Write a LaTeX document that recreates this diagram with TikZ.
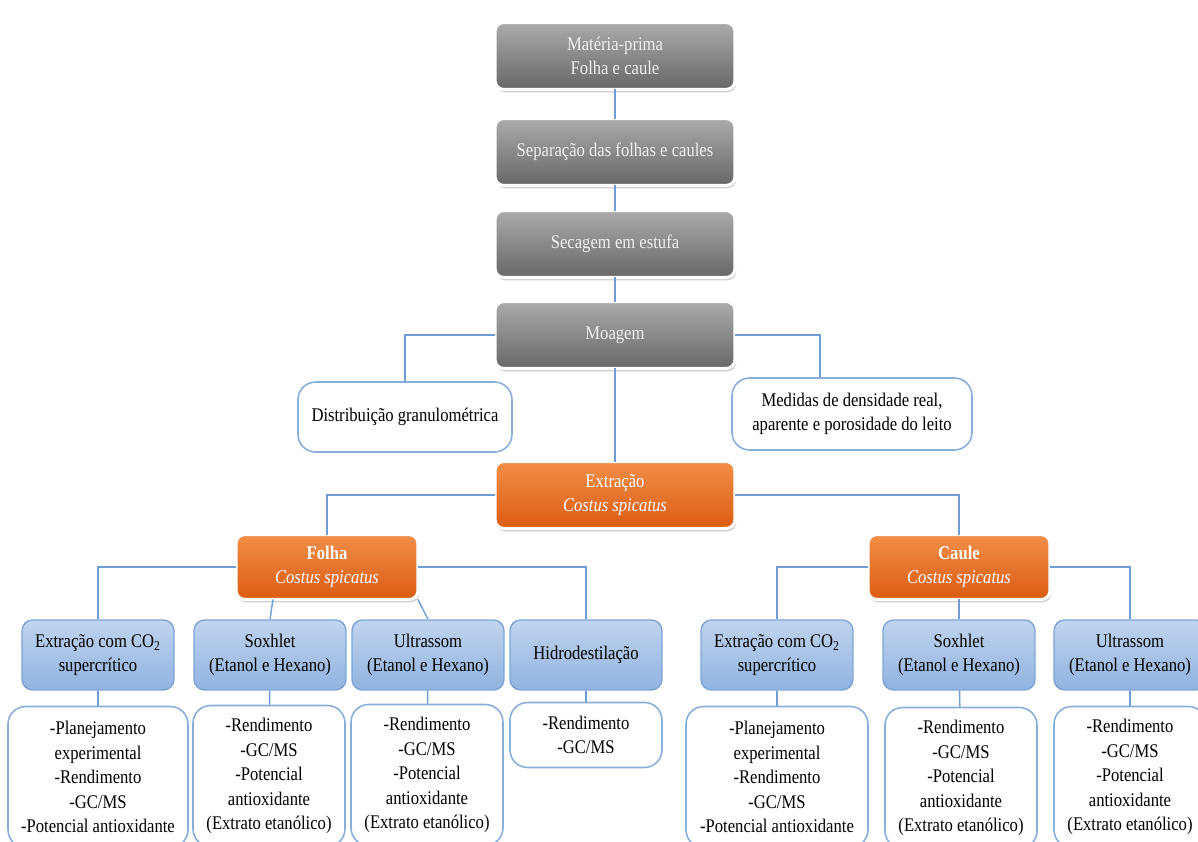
\documentclass[tikz,border=0pt]{standalone}
\usepackage{fontspec}
\setmainfont[FakeStretch=0.86]{Liberation Serif}
\usepackage{xcolor}
\definecolor{ColGrT}{RGB}{170,170,170}
\definecolor{ColGrB}{RGB}{104,104,104}
\definecolor{ColOrT}{RGB}{242,142,72}
\definecolor{ColOrB}{RGB}{219,92,18}
\definecolor{ColBlT}{RGB}{192,212,238}
\definecolor{ColBlB}{RGB}{144,179,224}
\definecolor{ColBlD}{RGB}{124,165,214}
\definecolor{ColEdge}{RGB}{108,157,212}
\usepackage{tikz}
\usetikzlibrary{shadows}
\usetikzlibrary{calc}
\tikzstyle{Box}=[rectangle,align=center,inner sep=1pt,
font=\fontsize{11}{14}\selectfont]
\tikzstyle{GrayBox}=[Box,rounded corners=5pt,draw=white,line width=1.8pt,
outer sep=0pt,top color=ColGrT,bottom color=ColGrB,text=white!94!black,
minimum width=4.8cm,minimum height=1.34cm,
drop shadow={shadow xshift=.7pt,shadow yshift=-1.6pt,opacity=.4}]
\tikzstyle{OrangeBox}=[GrayBox,top color=ColOrT,bottom color=ColOrB,
text=white]
\tikzstyle{TechBox}=[Box,rounded corners=6pt,draw=ColBlD,line width=.8pt,
top color=ColBlT,bottom color=ColBlB,text=black,
minimum width=3.04cm,minimum height=1.4cm]
\tikzstyle{ResBox}=[Box,rounded corners=10pt,draw=ColBlD!90,line width=.9pt,
fill=white,text=black,minimum width=3.04cm,minimum height=2.82cm]
\tikzstyle{InfoBox}=[ResBox,minimum height=1.4cm]
\tikzstyle{Edge}=[draw=ColEdge,line width=.8pt]

\begin{document}
\begin{tikzpicture}[x=.02cm,y=-.02cm]
    \useasboundingbox(0,0)rectangle(1198,842);
    \clip(0,0)rectangle(1198,842);
        % tronco do processo
        \node[GrayBox](mat)at(615,56){Matéria-prima\\Folha e caule};
        \node[GrayBox](sep)at(615,152){Separação das folhas e caules};
        \node[GrayBox](sec)at(615,244){Secagem em estufa};
        \node[GrayBox](moa)at(615,335){Moagem};
        \node[InfoBox,minimum width=4.28cm](dis)at(405,417)
            {Distribuição granulométrica};
        \node[InfoBox,minimum width=4.8cm,minimum height=1.44cm](med)
            at(852,414){Medidas de densidade real,\\
            aparente e porosidade do leito};
        \node[OrangeBox](ext)at(615,495)
            {Extração\\\textit{Costus spicatus}};
        \node[OrangeBox,minimum width=3.64cm,minimum height=1.3cm](fol)
            at(327,567){\textbf{Folha}\\\textit{Costus spicatus}};
        \node[OrangeBox,minimum width=3.64cm,minimum height=1.3cm](cau)
            at(959,567){\textbf{Caule}\\\textit{Costus spicatus}};
        % folha
        \node[TechBox](coL)at(98,655)
            {Extração com CO\textsubscript{2}\\supercrítico};
        \node[TechBox](soL)at(270,655){Soxhlet\\(Etanol e Hexano)};
        \node[TechBox](ulL)at(428,655){Ultrassom\\(Etanol e Hexano)};
        \node[TechBox](hiL)at(586,655){Hidrodestilação};
        % caule
        \node[TechBox](coR)at(777,655)
            {Extração com CO\textsubscript{2}\\supercrítico};
        \node[TechBox](soR)at(959,655){Soxhlet\\(Etanol e Hexano)};
        \node[TechBox](ulR)at(1130,655){Ultrassom\\(Etanol e Hexano)};
        % analises
        \node[ResBox,minimum width=3.6cm](rcL)at(98,777)
            {-Planejamento\\experimental\\-Rendimento\\-GC/MS\\
            -Potencial antioxidante};
        \node[ResBox](rsL)at(269,776){-Rendimento\\-GC/MS\\-Potencial\\
            antioxidante\\(Extrato etanólico)};
        \node[ResBox](ruL)at(427,775){-Rendimento\\-GC/MS\\-Potencial\\
            antioxidante\\(Extrato etanólico)};
        \node[ResBox,minimum height=1.3cm](rhL)at(586,735)
            {-Rendimento\\-GC/MS};
        \node[ResBox,minimum width=3.64cm](rcR)at(777,777)
            {-Planejamento\\experimental\\-Rendimento\\-GC/MS\\
            -Potencial antioxidante};
        \node[ResBox](rsR)at(961,778){-Rendimento\\-GC/MS\\-Potencial\\
            antioxidante\\(Extrato etanólico)};
        \node[ResBox](ruR)at(1130,777){-Rendimento\\-GC/MS\\-Potencial\\
            antioxidante\\(Extrato etanólico)};
        \draw[Edge](mat)--(sep);
        \draw[Edge](sep)--(sec);
        \draw[Edge](sec)--(moa);
        \draw[Edge](moa.west)-|(dis.north);
        \draw[Edge](moa.east)-|($(med.north)+(-32,0)$);
        \draw[Edge](moa)--(ext);
        \draw[Edge](ext.west)-|(fol.north);
        \draw[Edge](ext.east)-|(cau.north);
        \draw[Edge](fol.west)-|(coL.north);
        \draw[Edge]($(fol.south)+(-54,0)$)--(soL.north);
        \draw[Edge](fol.south east)--(ulL.north);
        \draw[Edge](fol.east)-|(hiL.north);
        \draw[Edge](cau.west)-|(coR.north);
        \draw[Edge](cau)--(soR);
        \draw[Edge](cau.east)-|(ulR.north);
        \draw[Edge](coL)--(rcL);
        \draw[Edge](soL)--(rsL);
        \draw[Edge](ulL)--(ruL);
        \draw[Edge](hiL)--(rhL);
        \draw[Edge](coR)--(rcR);
        \draw[Edge](soR)--(rsR);
        \draw[Edge](ulR)--(ruR);
    \end{tikzpicture}
\end{document}
